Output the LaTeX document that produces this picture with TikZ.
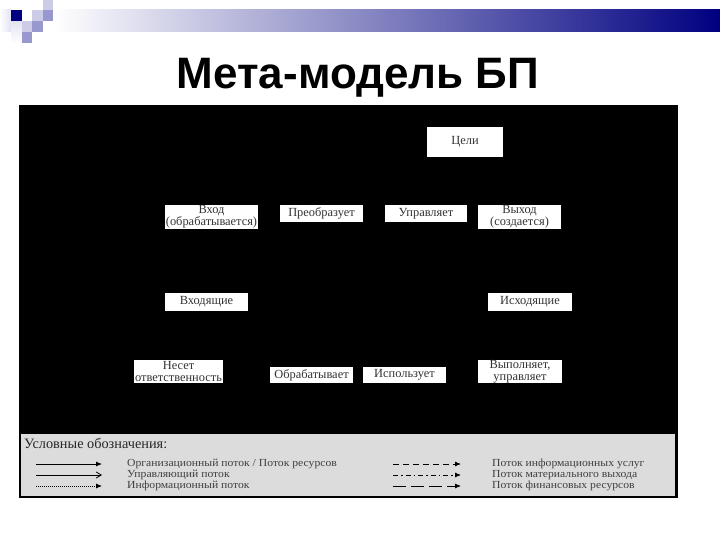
\documentclass[tikz,border=0pt]{standalone}
\usepackage{fontspec}
\setmainfont{Liberation Serif}
\newfontfamily\titlefont{Liberation Sans}
\newfontfamily\legfont[FakeStretch=1.08]{Liberation Serif}
\usetikzlibrary{positioning, arrows.meta}
\definecolor{navyblue}{RGB}{0,0,128}
\definecolor{hbmid}{RGB}{192,192,214}
\definecolor{sqlight}{RGB}{204,204,230}
\definecolor{sqmid}{RGB}{152,152,206}
\definecolor{sqfaint}{RGB}{226,226,242}
\definecolor{legendgrey}{RGB}{220,220,220}

\begin{document}
\begin{tikzpicture}[
  x=1pt, y=-1pt,
  every node/.style={font=\fontsize{11.6}{11.6}\selectfont},
  box/.style={fill=white, inner sep=0pt, align=center, text=black!80,
              font=\fontsize{12.4}{11.6}\selectfont},
  legtext/.style={anchor=west, inner sep=0pt, text=black!75,
                  font=\legfont\fontsize{10.8}{10.8}\selectfont},
  flowbase/.style={line width=0.8pt, black},
  orgflow/.style={flowbase, -{Latex[length=6pt, width=5pt]}},
  ctrlflow/.style={flowbase, -{Straight Barb[length=5pt, width=6pt]}},
  infoflow/.style={flowbase, dash pattern=on 1pt off 1pt, -{Latex[length=6pt, width=5pt]}},
  servflow/.style={flowbase, dash pattern=on 6pt off 4pt, -{Latex[length=6pt, width=5pt]}},
  matflow/.style={flowbase, dash pattern=on 5pt off 3pt on 1.5pt off 3pt, -{Latex[length=6pt, width=5pt]}},
  finflow/.style={flowbase, dash pattern=on 13pt off 5pt, -{Latex[length=6pt, width=5pt]}}
]
\useasboundingbox (0,0) rectangle (720,540);
\fill[white] (0,0) rectangle (720,540);

% header
\shade[left color=white, right color=sqfaint] (0,10) rectangle (11,32);
\shade[top color=sqfaint, bottom color=white] (11,21) rectangle (22,43);
\fill[navyblue] (11,10) rectangle (22,21);
\fill[sqlight] (43,0) rectangle (53,10);
\fill[sqlight] (32,10) rectangle (43,21);
\fill[sqmid] (43,10) rectangle (53,21);
\fill[sqlight] (22,21) rectangle (32,32);
\fill[sqmid] (32,21) rectangle (43,32);
\fill[sqmid] (22,32) rectangle (32,43);
\shade[left color=white, middle color=hbmid, right color=navyblue] (53,10) rectangle (720,32);

\node[font=\titlefont\bfseries\fontsize{44}{44}\selectfont, anchor=base, inner sep=0pt]
  (title) at (358,88.5) {Мета-модель БП};

% model area
\fill[black] (19,105) rectangle (678,498);

\node[box, minimum width=76pt, minimum height=30pt] (celi) at (465,142) {Цели};
\node[box, minimum width=93pt, minimum height=24pt] (vhod) at (211.5,217) {Вход\\(обрабатывается)};
\node[box, minimum width=83pt, minimum height=17pt] (preobr) at (321.5,213.5) {Преобразует};
\node[box, minimum width=82pt, minimum height=17pt] (uprav) at (426,213.5) {Управляет};
\node[box, minimum width=83pt, minimum height=24pt] (vyhod) at (519.5,217) {Выход\\(создается)};
\node[box, minimum width=83pt, minimum height=18pt] (vhodyasch) at (206.5,302) {Входящие};
\node[box, minimum width=84pt, minimum height=18pt] (ishod) at (530,302) {Исходящие};
\node[box, minimum width=89pt, minimum height=23pt] (neset) at (178.5,371.5) {Несет\\ответственность};
\node[box, minimum width=83pt, minimum height=16pt] (obrab) at (311.5,375) {Обрабатывает};
\node[box, minimum width=83pt, minimum height=16pt] (ispolz) at (404.5,375) {Использует};
\node[box, minimum width=84pt, minimum height=23pt] (vypoln) at (520,371.5) {Выполняет,\\управляет};

% legend
\fill[legendgrey] (21,434) rectangle (675,496);
\node[legtext, font=\fontsize{14.3}{14.3}\selectfont, text=black!85] (legtitle) at (24,443) {Условные обозначения:};

\foreach \n/\y/\sty/\txt in {
    la/464/orgflow/{Организационный поток / Поток ресурсов},
    lb/475/ctrlflow/{Управляющий поток},
    lc/486/infoflow/{Информационный поток}} {
  \coordinate (\n s) at (36,\y);
  \coordinate (\n e) at (102,\y);
  \draw[\sty] (\n s) -- (\n e);
  \node[legtext] (\n t) at (127,\y) {\txt};
}
\foreach \n/\y/\sty/\txt in {
    ld/464/servflow/{Поток информационных услуг},
    le/475/matflow/{Поток материального выхода},
    lf/486/finflow/{Поток финансовых ресурсов}} {
  \coordinate (\n s) at (393,\y);
  \coordinate (\n e) at (461,\y);
  \draw[\sty] (\n s) -- (\n e);
  \node[legtext] (\n t) at (492,\y) {\txt};
}
\end{tikzpicture}
\end{document}
